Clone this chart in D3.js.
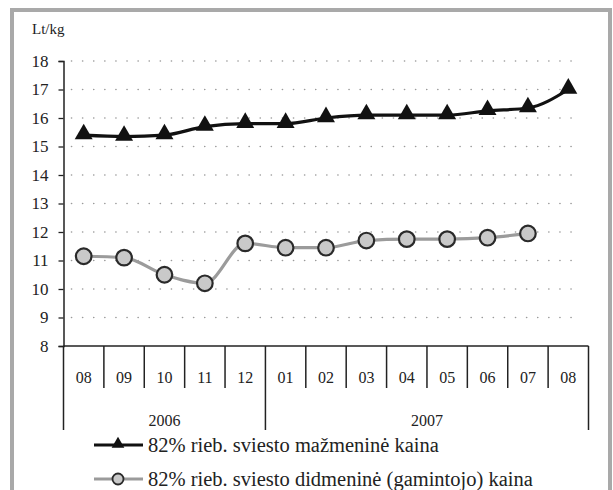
<!DOCTYPE html>
<html>
<head>
<meta charset="utf-8">
<script src="https://cdn.jsdelivr.net/npm/d3@7"></script>
<style>
  body { margin: 0; background: #fff; }
  svg text { font-family: "Liberation Serif", "Times New Roman", serif; fill: #222; }
</style>
</head>
<body>
<svg id="chart"></svg>
<script>
let width = 613, height = 490;

// data
let months = ["08", "09", "10", "11", "12", "01", "02", "03", "04", "05", "06", "07", "08"];
let years = ["2006", "2007"];
let yearStart = [0, 5]; // index of first month of each year
let retail = [15.4, 15.35, 15.4, 15.7, 15.8, 15.8, 16.0, 16.1, 16.1, 16.1, 16.25, 16.35, 17.0];
let wholesale = [11.15, 11.1, 10.5, 10.2, 11.6, 11.45, 11.45, 11.7, 11.75, 11.75, 11.8, 11.95, null];
let yTicks = [8, 9, 10, 11, 12, 13, 14, 15, 16, 17, 18];
let legendLabels = ["82% rieb. sviesto mažmeninė kaina", "82% rieb. sviesto didmeninė (gamintojo) kaina"];

let plotLeft = 63.5, plotRight = 588.5, plotTop = 61, plotBottom = 346;

let svg = d3.select("#chart").attr("width", width).attr("height", height);

// outer frame
svg.append("rect")
  .attr("x", 12).attr("y", 10)
  .attr("width", 598).attr("height", 500)
  .attr("fill", "none")
  .attr("stroke", "#a9a9a9")
  .attr("stroke-width", 4);

let x = d3.scaleBand().domain(d3.range(months.length)).range([plotLeft, plotRight]);
let y = d3.scaleLinear().domain([8, 18]).range([plotBottom, plotTop]);

// dotted grid
svg.append("g").selectAll("line")
  .data(yTicks.filter(d => d > 8))
  .join("line")
  .attr("x1", plotLeft + 8).attr("x2", 580)
  .attr("y1", d => y(d)).attr("y2", d => y(d))
  .attr("stroke", "#9a9a9a")
  .attr("stroke-width", 1.6)
  .attr("stroke-linecap", "round")
  .attr("stroke-dasharray", "0.1 11");

// y axis
let yAxis = svg.append("g")
  .attr("transform", `translate(${plotLeft},0)`)
  .call(d3.axisLeft(y).tickValues(yTicks).tickSize(5).tickPadding(10).tickFormat(d3.format("d")));
yAxis.select(".domain").attr("stroke", "#222").attr("stroke-width", 1.5);
yAxis.selectAll(".tick line").attr("stroke", "#222").attr("stroke-width", 1.3);
yAxis.selectAll("text").style("font-size", "17px").attr("fill", "#222");

svg.append("text")
  .attr("x", 32).attr("y", 34)
  .style("font-size", "15px")
  .text("Lt/kg");

// x axis: base line, month cells, year cells
svg.append("line")
  .attr("x1", plotLeft).attr("x2", plotRight)
  .attr("y1", plotBottom).attr("y2", plotBottom)
  .attr("stroke", "#222").attr("stroke-width", 1.5);

let bounds = d3.range(months.length + 1);
svg.append("g").selectAll("line")
  .data(bounds)
  .join("line")
  .attr("x1", i => i < months.length ? x(i) : x(i - 1) + x.bandwidth())
  .attr("x2", i => i < months.length ? x(i) : x(i - 1) + x.bandwidth())
  .attr("y1", plotBottom)
  .attr("y2", i => (i === 0 || i === months.length || yearStart.includes(i)) ? 430 : 388)
  .attr("stroke", "#222").attr("stroke-width", 1.5);

svg.append("g").selectAll("text")
  .data(months)
  .join("text")
  .attr("x", (d, i) => x(i) + x.bandwidth() / 2)
  .attr("y", 383)
  .attr("text-anchor", "middle")
  .style("font-size", "16px")
  .text(d => d);

svg.append("g").selectAll("text")
  .data(years)
  .join("text")
  .attr("x", (d, i) => {
    let a = x(yearStart[i]);
    let b = i + 1 < years.length ? x(yearStart[i + 1]) : plotRight;
    return (a + b) / 2;
  })
  .attr("y", 426)
  .attr("text-anchor", "middle")
  .style("font-size", "16px")
  .text(d => d);

// series
let cx = i => x(i) + x.bandwidth() / 2;

let line = d3.line()
  .defined(d => d != null)
  .x((d, i) => cx(i))
  .y(d => y(d))
  .curve(d3.curveMonotoneX);

svg.append("path")
  .attr("d", line(wholesale))
  .attr("fill", "none")
  .attr("stroke", "#9b9b9b")
  .attr("stroke-width", 3.2);

svg.append("path")
  .attr("d", line(retail))
  .attr("fill", "none")
  .attr("stroke", "#111")
  .attr("stroke-width", 3.2);

let tri = d3.symbol().type(d3.symbolTriangle).size(140);

svg.append("g").selectAll("path")
  .data(retail)
  .join("path")
  .attr("d", tri)
  .attr("transform", (d, i) => `translate(${cx(i)},${y(d) - 1})`)
  .attr("fill", "#111");

svg.append("g").selectAll("circle")
  .data(wholesale.map((v, i) => ({ v, i })).filter(d => d.v != null))
  .join("circle")
  .attr("cx", d => cx(d.i))
  .attr("cy", d => y(d.v))
  .attr("r", 7.8)
  .attr("fill", "#c9c9c9")
  .attr("stroke", "#2a2a2a")
  .attr("stroke-width", 2.2);

// legend
let legend = svg.append("g");
let legendY = [445, 479];

legend.append("line")
  .attr("x1", 94).attr("x2", 143)
  .attr("y1", legendY[0]).attr("y2", legendY[0])
  .attr("stroke", "#111").attr("stroke-width", 3.2);
legend.append("path")
  .attr("d", d3.symbol().type(d3.symbolTriangle).size(70))
  .attr("transform", `translate(118,${legendY[0] - 1})`)
  .attr("fill", "#111");

legend.append("line")
  .attr("x1", 94).attr("x2", 143)
  .attr("y1", legendY[1]).attr("y2", legendY[1])
  .attr("stroke", "#9b9b9b").attr("stroke-width", 3.2);
legend.append("circle")
  .attr("cx", 118).attr("cy", legendY[1]).attr("r", 5.5)
  .attr("fill", "#c9c9c9").attr("stroke", "#2a2a2a").attr("stroke-width", 1.8);

legend.selectAll("text")
  .data(legendLabels)
  .join("text")
  .attr("x", 148)
  .attr("y", (d, i) => legendY[i] + 7)
  .style("font-size", "20.5px")
  .text(d => d);
</script>
</body>
</html>
